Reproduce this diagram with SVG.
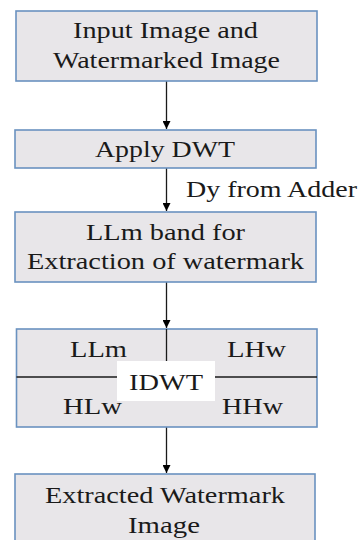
<svg xmlns="http://www.w3.org/2000/svg" width="360" height="540" viewBox="0 0 360 540">
  <style>
    .box { fill: #e8e6e9; stroke: #6a92c0; stroke-width: 1.6; }
    .lbl { font-family: 'Liberation Serif', 'DejaVu Serif', serif; font-size: 23px; fill: #1a1a1a; }
    .ln { stroke: #1a1a1a; stroke-width: 1.3; fill: none; }
    .arr { stroke: #1a1a1a; stroke-width: 1.3; fill: none; marker-end: url(#head); }
  </style>
  <defs>
    <marker id="head" viewBox="0 0 8 8" refX="8" refY="4" markerWidth="8" markerHeight="8" markerUnits="userSpaceOnUse" orient="auto">
      <path d="M0,0 L8,4 L0,8 Z" fill="#000"/>
    </marker>
  </defs>

  <g id="connectors">
    <line class="arr" x1="166.5" y1="81" x2="166.5" y2="129"/>
    <line class="arr" x1="166.5" y1="168" x2="166.5" y2="211"/>
    <line class="arr" x1="166.5" y1="282" x2="166.5" y2="328"/>
    <line class="arr" x1="166.5" y1="401" x2="166.5" y2="473"/>
  </g>

  <g id="input">
    <rect class="box" x="16" y="11" width="301" height="70"/>
    <text class="lbl" x="165.5" y="38" text-anchor="middle" textLength="185" lengthAdjust="spacingAndGlyphs">Input Image and</text>
    <text class="lbl" x="166.5" y="68" text-anchor="middle" textLength="227" lengthAdjust="spacingAndGlyphs">Watermarked Image</text>
  </g>

  <g id="dwt">
    <rect class="box" x="15" y="130" width="301" height="38"/>
    <text class="lbl" x="165" y="157" text-anchor="middle" textLength="140" lengthAdjust="spacingAndGlyphs">Apply DWT</text>
  </g>

  <g id="adder-label">
    <text class="lbl" x="186" y="197" textLength="171" lengthAdjust="spacingAndGlyphs">Dy from Adder</text>
  </g>

  <g id="llm-band">
    <rect class="box" x="15" y="212" width="301" height="70"/>
    <text class="lbl" x="165.5" y="240" text-anchor="middle" textLength="159" lengthAdjust="spacingAndGlyphs">LLm band for</text>
    <text class="lbl" x="165.5" y="269" text-anchor="middle" textLength="277" lengthAdjust="spacingAndGlyphs">Extraction of watermark</text>
  </g>

  <g id="idwt">
    <rect class="box" x="16.5" y="329" width="300.5" height="98"/>
    <line class="ln" x1="16.5" y1="377" x2="317" y2="377"/>
    <line class="ln" x1="166.5" y1="329" x2="166.5" y2="362"/>
    <rect x="117" y="361" width="98" height="40" fill="#ffffff"/>
    <text class="lbl" x="166" y="390" text-anchor="middle" textLength="74" lengthAdjust="spacingAndGlyphs">IDWT</text>
    <text class="lbl" x="98.5" y="357" text-anchor="middle" textLength="57" lengthAdjust="spacingAndGlyphs">LLm</text>
    <text class="lbl" x="256.5" y="357" text-anchor="middle" textLength="59" lengthAdjust="spacingAndGlyphs">LHw</text>
    <text class="lbl" x="92.5" y="414" text-anchor="middle" textLength="59" lengthAdjust="spacingAndGlyphs">HLw</text>
    <text class="lbl" x="252.5" y="414" text-anchor="middle" textLength="61" lengthAdjust="spacingAndGlyphs">HHw</text>
  </g>

  <g id="output">
    <rect class="box" x="15" y="474" width="300" height="80"/>
    <text class="lbl" x="165" y="503" text-anchor="middle" textLength="240" lengthAdjust="spacingAndGlyphs">Extracted Watermark</text>
    <text class="lbl" x="164" y="533" text-anchor="middle" textLength="72" lengthAdjust="spacingAndGlyphs">Image</text>
  </g>
</svg>
